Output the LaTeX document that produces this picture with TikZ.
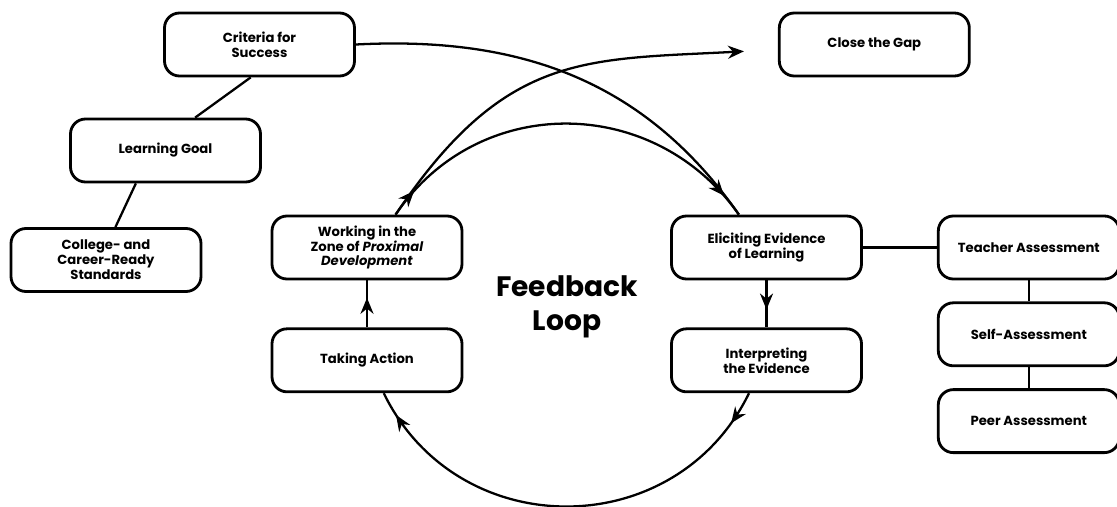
\documentclass[tikz,border=0pt]{standalone}
\usepackage{fontspec}
\setmainfont{Poppins}
\usetikzlibrary{positioning,arrows.meta,decorations.markings}

\tikzset{
  >={Stealth[length=0.32cm,width=0.26cm]},
  box/.style={draw, line width=1.6pt, rounded corners=0.3cm, fill=white,
    minimum width=3.8cm, minimum height=1.26cm, align=center,
    font=\fontsize{7.5}{8.5}\selectfont\bfseries},
  abox/.style={box, minimum width=3.62cm},
  link/.style={line width=1.3pt},
  tipat/.style={postaction={decorate},
    decoration={markings, mark=at position #1 with {\arrow{>}}}},
  tipsat/.style 2 args={postaction={decorate},
    decoration={markings, mark=at position #1 with {\arrow{>}},
      mark=at position #2 with {\arrow{>}}}},
}

\begin{document}
\begin{tikzpicture}[link]
  \useasboundingbox (0,0) rectangle (22.34,10.12);

  \node[box] (crit) at (5.19,9.23) {Criteria for\\Success};
  \node[box] (goal) at (3.31,7.11) {Learning Goal};
  \node[box] (ccrs) at (2.12,4.92) {College- and\\Career-Ready\\Standards};
  \node[box, right=8.44cm of crit] (gap) {Close the Gap};

  \node[box] (zpd) at (7.34,5.17) {Working in the\\Zone of \textit{Proximal}\\\textit{Development}};
  \node[box, below=0.94cm of zpd] (act) {Taking Action};
  \node[box] (elicit) at (15.33,5.17) {Eliciting Evidence\\of Learning};
  \node[box, below=0.94cm of elicit] (interp) {Interpreting\\the Evidence};

  \node[abox, right=1.48cm of elicit] (teacher) {Teacher Assessment};
  \node[abox, below=0.42cm of teacher] (self) {Self-Assessment};
  \node[abox, below=0.42cm of self] (peer) {Peer Assessment};

  \node[font=\fontsize{16}{19.5}\selectfont\bfseries, align=center] (loop)
    at (11.34,3.98) {Feedback\\Loop};

  \draw (crit.255) -- (goal.48);
  \draw (goal.228) -- (ccrs.74);

  \draw (elicit) -- (teacher);
  \draw (teacher) -- (self);
  \draw (self) -- (peer);

  \draw[tipat=0.63] (act) -- (zpd);
  \draw[tipat=0.62] (elicit) -- (interp);

  \draw[tipsat={0.7cm}{-0.5cm}] (interp.242) to[out=-116, in=-64, looseness=1.18] (act.297);

  \draw (crit.east) to[out=3, in=125] (elicit.130);
  \draw[->, shorten >=0.68cm] (zpd.49) to[out=56, in=183, looseness=1.2] (gap.183);
  \draw[tipsat={0.6cm}{-0.48cm}] (zpd.49) to[out=56, in=125, looseness=1.1] (elicit.130);
\end{tikzpicture}
\end{document}
